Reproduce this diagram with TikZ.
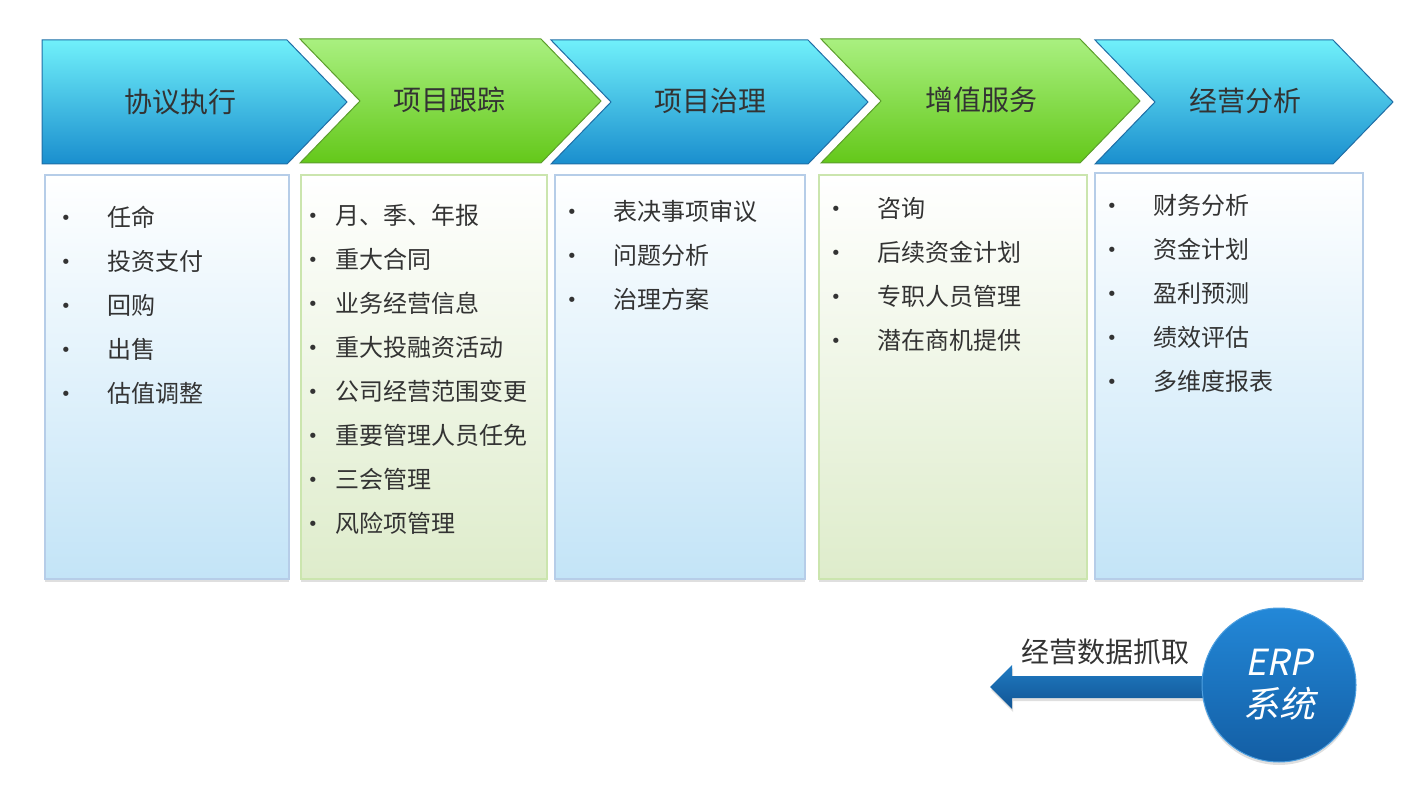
\documentclass[tikz,border=0pt]{standalone}
\usepackage{fontspec}
\setmainfont{Noto Sans CJK SC}
\newfontfamily\bulfont{DejaVu Sans}
\newfontfamily\slantcjk[FakeSlant=0.2]{Noto Sans CJK SC}
\usetikzlibrary{shadows}
\definecolor{txt}{HTML}{333333}
\definecolor{bluetop}{HTML}{70F0FA}
\definecolor{bluebot}{HTML}{1A8ECE}
\definecolor{blueedge}{HTML}{1F6EA6}
\definecolor{greentop}{HTML}{A9F080}
\definecolor{greenbot}{HTML}{64C81A}
\definecolor{greenedge}{HTML}{5C9E2C}
\definecolor{boxbluebot}{HTML}{C3E4F7}
\definecolor{boxblueedge}{HTML}{B6CDE8}
\definecolor{boxgreenbot}{HTML}{DEECCB}
\definecolor{boxgreenedge}{HTML}{CBE5AE}
\definecolor{erptop}{HTML}{2388D8}
\definecolor{erpbot}{HTML}{135EA4}
\tikzset{
  chevblue/.style={draw=blueedge, line width=1pt, top color=bluetop, bottom color=bluebot},
  chevgreen/.style={draw=greenedge, line width=1pt, top color=greentop, bottom color=greenbot},
  boxblue/.style={draw=boxblueedge, line width=1.2pt, top color=white, bottom color=boxbluebot,
    drop shadow={shadow xshift=0pt, shadow yshift=-3pt, opacity=.25}},
  boxgreen/.style={draw=boxgreenedge, line width=1.2pt, top color=white, bottom color=boxgreenbot,
    drop shadow={shadow xshift=0pt, shadow yshift=-3pt, opacity=.25}},
  chevlabel/.style={font=\fontsize{28}{30}\selectfont, text=txt, inner sep=0pt},
  item/.style={font=\fontsize{24}{26}\selectfont, text=txt, anchor=west, inner sep=0pt},
  bul/.style={font=\bulfont\fontsize{18}{20}\selectfont, text=txt, anchor=center, inner sep=0pt, yshift=-3pt},
}
\begin{document}
\begin{tikzpicture}[x=1pt,y=-1pt]
\useasboundingbox (0,0) rectangle (1428,802);

% chevrons
\path[chevblue]  (42,40) -- (287,40) -- (347,102) -- (287,164) -- (42,164) -- cycle;
\path[chevgreen] (300,39) -- (541,39) -- (601,101) -- (541,163) -- (300,163) -- (360,101) -- cycle;
\path[chevblue]  (551,40) -- (808,40) -- (868,102) -- (808,164) -- (551,164) -- (611,102) -- cycle;
\path[chevgreen] (821,39) -- (1080,39) -- (1140,101) -- (1080,163) -- (821,163) -- (881,101) -- cycle;
\path[chevblue]  (1095,40) -- (1333,40) -- (1393,102) -- (1333,164) -- (1095,164) -- (1155,102) -- cycle;

\node[chevlabel] (c1) at (180,102) {协议执行};
\node[chevlabel] (c2) at (449,100) {项目跟踪};
\node[chevlabel] (c3) at (710,101) {项目治理};
\node[chevlabel] (c4) at (981,100) {增值服务};
\node[chevlabel] (c5) at (1245,101) {经营分析};

% boxes
\path[boxblue]  (45,175) rectangle (289,579);
\path[boxgreen] (301,175) rectangle (547,579);
\path[boxblue]  (555,175) rectangle (805,579);
\path[boxgreen] (819,175) rectangle (1087,579);
\path[boxblue]  (1095,173) rectangle (1363,579);

% box 1 items
\foreach \t [count=\i] in {任命,投资支付,回购,出售,估值调整}{
  \node[bul] (b1d\i) at (66,{217+44*(\i-1)}) {•};
  \node[item] (b1t\i) at (107,{217+44*(\i-1)}) {\t};
}
% box 2 items
\foreach \t [count=\i] in {月、季、年报,重大合同,业务经营信息,重大投融资活动,公司经营范围变更,重要管理人员任免,三会管理,风险项管理}{
  \node[bul] (b2d\i) at (313,{215+44*(\i-1)}) {•};
  \node[item] (b2t\i) at (335,{215+44*(\i-1)}) {\t};
}
% box 3 items
\foreach \t [count=\i] in {表决事项审议,问题分析,治理方案}{
  \node[bul] (b3d\i) at (572,{211+44*(\i-1)}) {•};
  \node[item] (b3t\i) at (613,{211+44*(\i-1)}) {\t};
}
% box 4 items
\foreach \t [count=\i] in {咨询,后续资金计划,专职人员管理,潜在商机提供}{
  \node[bul] (b4d\i) at (836,{208+44*(\i-1)}) {•};
  \node[item] (b4t\i) at (877,{208+44*(\i-1)}) {\t};
}
% box 5 items
\foreach \t [count=\i] in {财务分析,资金计划,盈利预测,绩效评估,多维度报表}{
  \node[bul] (b5d\i) at (1112,{205+44*(\i-1)}) {•};
  \node[item] (b5t\i) at (1153,{205+44*(\i-1)}) {\t};
}

% arrow (drawn under the circle)
\coordinate (atip) at (990,687);
\coordinate (aend) at (1230,687);
\path[top color=erptop!90!black, bottom color=erpbot!90!black,
      drop shadow={shadow xshift=1pt, shadow yshift=-3pt, opacity=.25}]
  (aend |- 0,676) -- (1012,676) -- (1012,665) -- (atip) -- (1012,709) -- (1012,698) -- (aend |- 0,698) -- cycle;

% ERP circle
\node[circle, minimum size=154pt, inner sep=0pt, draw=erptop!80!white, line width=1pt,
      top color=erptop, bottom color=erpbot,
      drop shadow={shadow xshift=0pt, shadow yshift=-3pt, opacity=.25},
      text=white, align=center, font=\slantcjk\fontsize{36}{44}\selectfont] (erp) at (1279,685)
      {ERP\\[-2pt]系统};

\node[font=\fontsize{28}{30}\selectfont, text=txt, inner sep=0pt] (lbl) at (1105,652) {经营数据抓取};
\end{tikzpicture}
\end{document}
